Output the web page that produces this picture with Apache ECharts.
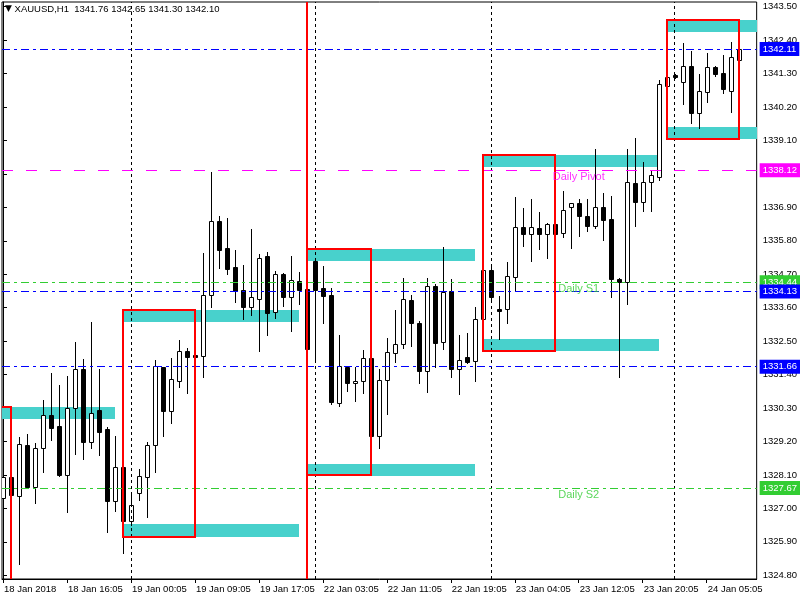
<!DOCTYPE html>
<html><head><meta charset="utf-8">
<script src="https://cdn.jsdelivr.net/npm/echarts@6/dist/echarts.min.js"></script>
<style>html,body{margin:0;padding:0;background:#fff}#c{width:800px;height:600px}</style>
</head><body><div id="c"></div>
<script>
const FONT = "'Liberation Sans',Arial,sans-serif";
const AXFS = 9.5;

const symbolTitle = 'XAUUSD,H1';
const lastOHLC = [1341.76, 1342.65, 1341.30, 1342.10];

const opens = [1327.33,1328.02,1327.42,1329.07,1327.70,1329.00,1330.06,1329.71,1328.11,1330.31,
1331.57,1329.19,1330.23,1329.61,1327.23,1328.35,1326.57,1327.50,1328.04,1329.07,
1331.64,1330.19,1331.20,1332.19,1332.04,1332.02,1334.01,1336.44,1335.56,1334.93,
1334.18,1333.63,1333.90,1335.30,1333.47,1334.70,1333.96,1334.47,1334.21,1335.14,
1334.25,1334.02,1330.48,1331.64,1331.11,1331.18,1331.94,1329.39,1331.22,1332.12,
1332.40,1333.85,1333.09,1331.53,1334.30,1332.46,1334.14,1331.57,1331.97,1331.84,
1333.22,1334.83,1333.55,1333.55,1334.62,1336.25,1336.01,1336.21,1336.03,1336.34,
1336.05,1336.90,1337.03,1336.61,1336.28,1336.90,1336.51,1334.54,1334.44,1337.71,
1337.07,1337.73,1337.91,1340.90,1341.25,1341.01,1341.55,1340.02,1340.69,1341.53,
1341.32,1340.72,1341.76];
const highs = [1328.84,1328.15,1329.34,1329.45,1329.14,1330.56,1331.44,1331.07,1331.36,1332.47,
1331.91,1333.13,1331.58,1329.68,1329.38,1328.59,1327.47,1328.30,1329.18,1331.88,
1331.65,1331.95,1332.54,1332.28,1332.14,1335.40,1338.06,1336.62,1336.54,1335.50,
1335.00,1336.19,1335.36,1335.42,1334.81,1334.75,1335.29,1334.78,1334.40,1335.24,
1334.97,1334.25,1332.70,1331.68,1331.64,1332.21,1332.13,1331.57,1332.60,1333.52,
1334.59,1334.02,1333.15,1334.59,1334.38,1335.59,1334.54,1332.70,1332.78,1333.62,
1334.91,1334.95,1333.99,1335.10,1337.24,1336.88,1337.18,1336.75,1336.40,1336.72,
1337.43,1337.04,1337.18,1337.18,1338.82,1337.36,1337.27,1334.57,1338.82,1339.19,
1338.38,1338.13,1341.09,1341.82,1341.29,1342.32,1342.04,1341.29,1341.99,1341.56,
1341.91,1342.35,1342.65];
const lows = [1326.59,1327.22,1325.18,1327.68,1327.19,1328.21,1329.25,1328.05,1326.89,1328.79,
1328.62,1328.99,1328.76,1326.22,1326.92,1325.54,1326.45,1327.27,1326.73,1328.21,
1329.38,1329.82,1331.00,1330.79,1331.81,1331.33,1333.63,1334.92,1334.72,1333.80,
1333.24,1333.37,1332.19,1332.71,1333.27,1333.67,1332.84,1333.73,1332.14,1331.91,
1333.11,1330.42,1330.38,1330.87,1330.54,1330.78,1329.38,1329.00,1330.09,1331.82,
1332.28,1332.35,1331.11,1330.84,1331.66,1332.25,1331.31,1330.76,1331.78,1331.18,
1332.65,1333.90,1332.56,1333.11,1334.16,1335.63,1335.15,1335.54,1335.25,1335.74,
1335.94,1335.57,1335.97,1336.13,1336.21,1335.83,1333.96,1331.33,1333.71,1336.30,
1336.78,1336.78,1337.80,1339.88,1341.16,1340.31,1339.68,1339.52,1340.38,1341.22,
1340.65,1340.05,1341.30];
const closes = [1328.02,1327.45,1329.11,1327.70,1328.98,1330.06,1329.65,1328.11,1330.29,1331.57,
1329.19,1330.13,1329.52,1327.25,1328.35,1326.58,1327.10,1328.05,1329.07,1331.68,
1330.21,1331.25,1332.17,1331.99,1331.99,1334.01,1336.44,1335.51,1334.88,1334.16,
1333.63,1333.95,1335.23,1333.44,1334.70,1333.96,1334.50,1334.19,1332.25,1334.19,
1334.00,1330.51,1331.67,1331.11,1331.18,1331.94,1329.39,1331.22,1332.13,1332.41,
1333.88,1333.09,1331.53,1334.30,1332.43,1334.11,1331.57,1331.87,1331.81,1333.22,
1334.83,1333.94,1333.50,1334.63,1336.25,1336.01,1336.25,1336.03,1336.34,1336.03,
1336.80,1337.03,1336.63,1336.28,1336.90,1336.50,1334.53,1334.45,1337.73,1337.09,
1337.73,1337.97,1340.95,1341.20,1341.20,1341.55,1340.02,1340.73,1341.51,1341.28,
1340.80,1341.84,1342.10];

const timeLabels = ['18 Jan 2018','18 Jan 16:05','19 Jan 00:05','19 Jan 09:05','19 Jan 17:05',
  '22 Jan 03:05','22 Jan 11:05','22 Jan 19:05','23 Jan 04:05','23 Jan 12:05','23 Jan 20:05','24 Jan 05:05'];
const labelBars = [0,8,16,24,32,40,48,56,64,72,80,88];
const daySeparatorBars = [16,39,61,84];
const weekStartBars = [38];
const priceTicks = [1324.80,1325.90,1327.00,1328.10,1329.20,1330.30,1331.40,1332.50,1333.60,
  1334.70,1335.80,1336.90,1338.00,1339.10,1340.20,1341.30,1342.40,1343.50];

const X_MIN = -0.125, X_MAX = 94.25, Y_MIN = 1324.676, Y_MAX = 1343.656;

// range boxes: [startBar, endBar, top, bottom]
const rangeBoxes = [[X_MIN,1,1330.34,Y_MIN],[15,24,1333.52,1326.07],[38,46,1335.53,1328.09],
  [60,69,1338.62,1332.19],[83,92,1343.06,1339.15]];
// zones: [startBar, endBar, upper, lower]
const zones = [[X_MIN,14,1330.34,1329.94],
  [15,37,1333.52,1333.14],[15,37,1326.49,1326.07],
  [38,59,1335.52,1335.15],[38,59,1328.46,1328.06],
  [60,82,1338.62,1338.24],[60,82,1332.57,1332.19],
  [83,X_MAX,1343.06,1342.68],[83,X_MAX,1339.54,1339.16]];

const levelValues = [1342.11,1338.12,1334.44,1334.13,1331.66,1327.67];
const levelKinds  = ['price','pivot','s','price','price','s'];
const levelTextNames = ['Daily Pivot','Daily S1','Daily S2'];
const levelTextValues = [1338.12,1334.44,1327.67];
const levelTextKinds = ['pivot','s','s'];
const levelTextBar = 72;

const KIND = {
  price: {color:'#0000ff', dash:[8,4,3,4]},
  pivot: {color:'#ff00ff', dash:[11,13]},
  s:     {color:'#32cd32', dash:[8,4,3,4]}
};

const candleData = opens.map((o,i)=>[i,o,highs[i],lows[i],closes[i]]);

function renderCandle(params, api){
  const i=api.value(0), o=api.value(1), h=api.value(2), l=api.value(3), c=api.value(4);
  const pO=api.coord([i,o]), pC=api.coord([i,c]), pH=api.coord([i,h]), pL=api.coord([i,l]);
  const x=Math.round(pO[0])+0.5;
  const top=Math.round(Math.min(pO[1],pC[1]))+0.5;
  const bot=Math.round(Math.max(pO[1],pC[1]))+0.5;
  const bull=c>=o;
  return {type:'group',children:[
    {type:'line',shape:{x1:x,y1:Math.round(pH[1]),x2:x,y2:Math.round(pL[1])+1},style:{stroke:'#000',lineWidth:1}},
    {type:'rect',shape:{x:x-2,y:top,width:4,height:Math.max(bot-top,1)},style:{fill:bull?'#fff':'#000',stroke:'#000',lineWidth:1}}
  ]};
}
function renderZone(params, api){
  const a=api.coord([api.value(0),api.value(2)]), b=api.coord([api.value(1),api.value(3)]);
  return {type:'rect',shape:{x:Math.round(a[0]),y:Math.round(a[1]),width:Math.round(b[0])-Math.round(a[0]),height:Math.round(b[1])-Math.round(a[1])},style:{fill:'#48d1cc'}};
}
function renderBox(params, api){
  const cs=params.coordSys;
  const a=api.coord([api.value(0),api.value(2)]), b=api.coord([api.value(1),api.value(3)]);
  let x1=Math.round(a[0]), y1=Math.round(a[1]), x2=Math.round(b[0]), y2=Math.round(b[1]);
  if (x1<=cs.x+0.5) x1=cs.x-4;
  if (y2>=cs.y+cs.height-0.5) y2=cs.y+cs.height+4;
  return {type:'rect',shape:{x:x1,y:y1,width:x2-x1,height:y2-y1},
    style:{fill:'none',stroke:'#ff0000',lineWidth:2}};
}

const chart = echarts.init(document.getElementById('c'), null, {renderer:'canvas'});
chart.setOption({
  animation:false,
  backgroundColor:'#fff',
  title:{left:5,top:4,padding:0,
    text:'{t|▼} '+symbolTitle+'  '+lastOHLC.map(v=>v.toFixed(2)).join(' '),
    textStyle:{fontFamily:FONT,fontSize:AXFS,fontWeight:'normal',color:'#000',
      rich:{t:{fontSize:9,color:'#000',fontFamily:'DejaVu Sans'}}}},
  grid:{left:2,right:43,top:2,bottom:21,show:true,borderColor:'#000',borderWidth:1,backgroundColor:'#fff'},
  xAxis:{type:'value',min:X_MIN,max:X_MAX,
    axisLine:{show:true,onZero:false,lineStyle:{color:'#000',width:1}},
    axisTick:{show:true,length:4,customValues:labelBars,lineStyle:{color:'#000'}},
    axisLabel:{customValues:labelBars,formatter:v=>timeLabels[labelBars.indexOf(Math.round(v))]||'',
      align:'left',margin:5,padding:[0,0,0,1],fontFamily:FONT,fontSize:AXFS,color:'#000'},
    splitLine:{show:false}},
  yAxis:{type:'value',position:'right',min:Y_MIN,max:Y_MAX,
    axisLine:{show:true,lineStyle:{color:'#000',width:1}},
    axisTick:{show:true,length:4,customValues:priceTicks,lineStyle:{color:'#000'}},
    axisLabel:{customValues:priceTicks,formatter:v=>v.toFixed(2),margin:6,fontFamily:FONT,fontSize:AXFS,color:'#000'},
    splitLine:{show:false}},
  series:[
    {type:'line',data:[],silent:true,z:1,
      markLine:{silent:true,symbol:['none','none'],animation:false,
        label:{show:false},
        data:daySeparatorBars.map(b=>({xAxis:b,lineStyle:{color:'#000',type:[3,3],width:1}}))}},
    {type:'custom',renderItem:renderZone,data:zones,clip:true,silent:true,z:2,encode:{x:[0,1],y:[2,3]}},
    {type:'custom',renderItem:renderCandle,data:candleData,clip:true,silent:true,z:3,encode:{x:0,y:[1,2,3,4]}},
    {type:'line',data:[],silent:true,z:4,
      markLine:{silent:true,symbol:['none','none'],animation:false,
        data:levelValues.map((v,k)=>({yAxis:v,
            lineStyle:{color:KIND[levelKinds[k]].color,type:KIND[levelKinds[k]].dash,width:1},
            label:{show:true,position:'end',distance:3,formatter:p=>Number(p.value).toFixed(2),
              backgroundColor:KIND[levelKinds[k]].color,color:'#fff',padding:[2,3,2,3],
              fontFamily:FONT,fontSize:AXFS}}))}},
    {type:'custom',renderItem:renderBox,data:rangeBoxes,clip:true,silent:true,z:5,encode:{x:[0,1],y:[2,3]}},
    {type:'line',data:[],silent:true,z:6,
      markLine:{silent:true,symbol:['none','none'],animation:false,label:{show:false},
        data:weekStartBars.map(b=>({xAxis:b,lineStyle:{color:'#ff0000',type:'solid',width:2}}))}},
    {type:'scatter',symbolSize:0,silent:true,z:7,
      data:levelTextNames.map((n,k)=>({name:n,value:[levelTextBar,levelTextValues[k]],
        label:{color:KIND[levelTextKinds[k]].color}})),
      label:{show:true,position:'inside',formatter:p=>p.name,offset:[0,7],
        fontFamily:FONT,fontSize:11,align:'center',verticalAlign:'middle'}}
  ]
});
</script></body></html>
